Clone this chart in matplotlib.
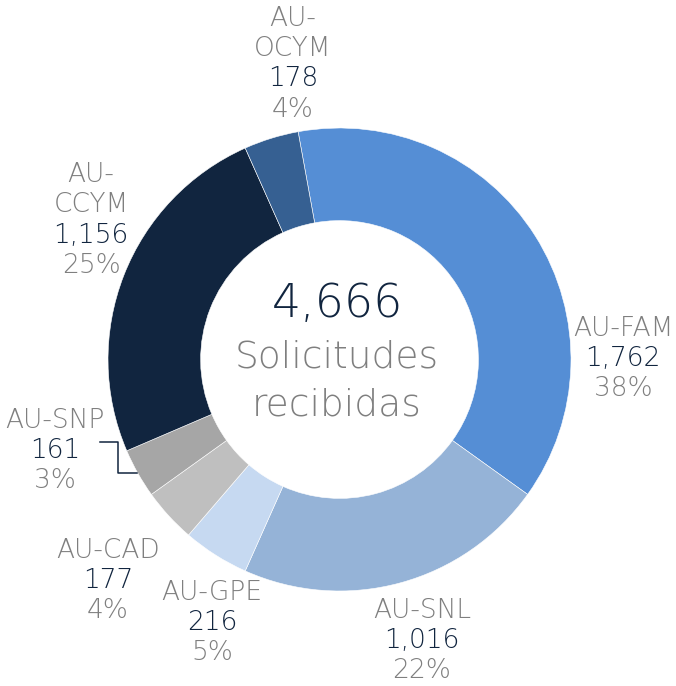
import numpy as np
import matplotlib
matplotlib.use("Agg")
import matplotlib.pyplot as plt

plt.rcParams['font.family'] = ['DejaVu Sans']

# data
names = ["AU-FAM", "AU-SNL", "AU-GPE", "AU-CAD", "AU-SNP", "AU-CCYM", "AU-OCYM"]
values = [1762, 1016, 216, 177, 161, 1156, 178]
colors = ["#558ED5", "#95B3D7", "#C6D9F1", "#BFBFBF", "#A6A6A6", "#11253F", "#366092"]
center_title = "Solicitudes\nrecibidas"

total = sum(values)
pcts = [round(v * 100.0 / total) for v in values]

GRAY = "#7F7F7F"
NAVY = "#11253F"

W, H = 676, 686
CX, CY, R = 339.5, 359.5, 231.5   # donut centre / radius in pixels

def px(x, y):
    # pixel position -> data coords (1 unit = outer radius)
    return (x - CX) / R, (CY - y) / R

fig = plt.figure(figsize=(W / 100, H / 100), dpi=100)
ax = fig.add_axes([0, 0, 1, 1])
ax.pie(values, colors=colors, startangle=100.3, counterclock=False, radius=1,
       wedgeprops=dict(width=0.40, edgecolor="white", linewidth=0.4))
ax.set_xlim(-CX / R, (W - CX) / R)
ax.set_ylim(-(H - CY) / R, CY / R)
ax.set_aspect("equal")
ax.axis("off")

# label anchors (pixel centre of first line)
label_pos = {
    "AU-FAM": (623, 328),
    "AU-SNL": (422, 610),
    "AU-GPE": (212, 592),
    "AU-CAD": (108, 550),
    "AU-SNP": (55, 420),
    "AU-CCYM": (91, 174),
    "AU-OCYM": (293, 18),
}
wrapped = {"AU-CCYM", "AU-OCYM"}
step = 30.5
fs = 19

for name, v, p in zip(names, values, pcts):
    x0, y0 = label_pos[name]
    lines = []
    if name in wrapped:
        lines.append(("AU-", GRAY))
        lines.append((name[3:], GRAY))
    else:
        lines.append((name, GRAY))
    lines.append(("{:,}".format(v), NAVY))
    lines.append(("{}%".format(p), GRAY))
    for i, (txt, col) in enumerate(lines):
        tx, ty = px(x0, y0 + i * step)
        ax.text(tx, ty, txt, ha="center", va="center", fontsize=fs, color=col,
                fontweight="light")

# leader line for AU-SNP
lx = [100, 118, 118, 137]
ly = [442, 442, 473, 473]
pts = [px(a, b) for a, b in zip(lx, ly)]
ax.plot([p[0] for p in pts], [p[1] for p in pts], color=NAVY, lw=1.1)

# centre text
tx, ty = px(338, 304)
ax.text(tx, ty, "{:,}".format(total), ha="center", va="center", fontsize=33,
        color=NAVY, fontweight="light")
t1, t2 = center_title.split("\n")
tx, ty = px(337, 357)
ax.text(tx, ty, t1, ha="center", va="center", fontsize=27, color=GRAY,
        fontweight="light")
tx, ty = px(337, 405)
ax.text(tx, ty, t2, ha="center", va="center", fontsize=27, color=GRAY,
        fontweight="light")

fig.savefig("out.png", dpi=100)
